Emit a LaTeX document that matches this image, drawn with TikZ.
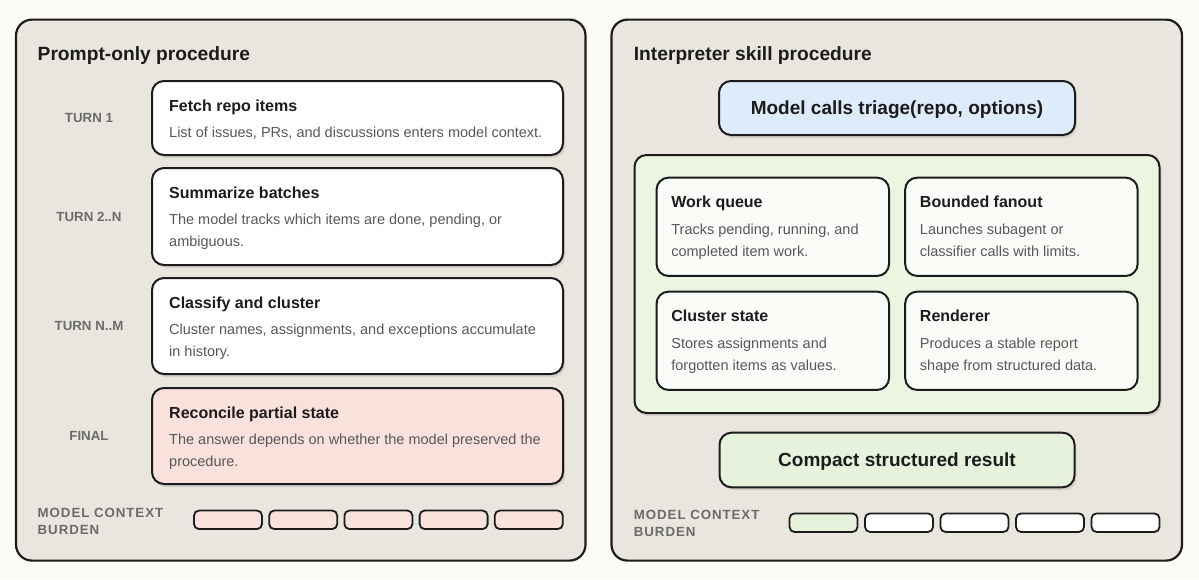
\documentclass[tikz,border=0pt]{standalone}
\usepackage{fontspec}
\setmainfont{Liberation Sans}
\usetikzlibrary{positioning,shadows}

\definecolor{pagebg}{HTML}{FCFBF6}
\definecolor{panelbg}{HTML}{E9E6DF}
\definecolor{ink}{HTML}{1C1C1C}
\definecolor{desctext}{HTML}{585858}
\definecolor{lbltext}{HTML}{6B6B6B}
\definecolor{stalepink}{HTML}{F9E1DC}
\definecolor{callblue}{HTML}{DEEBFA}
\definecolor{runtimegreen}{HTML}{EBF5E1}
\definecolor{partwhite}{HTML}{FAFCF8}
\definecolor{resultgreen}{HTML}{E6F2DC}

\tikzset{
  panel/.style={draw=ink, line width=2.2pt, fill=panelbg, rounded corners=16pt, outer sep=0pt},
  card/.style={draw=ink, line width=2pt, rounded corners=12pt, fill=white, outer sep=0pt,
    drop shadow={shadow xshift=2pt, shadow yshift=-3pt, fill=black, opacity=0.09}},
  part/.style={draw=ink, line width=2pt, rounded corners=12pt, fill=partwhite, outer sep=0pt,
    minimum width=232.5pt, minimum height=98.3pt},
  burden/.style={draw=ink, line width=1.8pt, rounded corners=5pt, outer sep=0pt,
    minimum width=68pt, minimum height=18.5pt},
  heading/.style={font=\fontsize{19.2}{23}\selectfont\bfseries, text=ink, inner sep=0pt, anchor=base west},
  cardtitle/.style={font=\fontsize{16}{19}\selectfont\bfseries, text=ink, inner sep=0pt, anchor=base west},
  cardtext/.style={font=\fontsize{14.5}{22}\selectfont, text=desctext, align=left, inner sep=0pt, anchor=base west},
  turn/.style={font=\fontsize{13.3}{16}\selectfont\bfseries, text=lbltext, inner sep=0pt},
  burdenlbl/.style={font=\fontsize{13.3}{17}\selectfont\bfseries\addfontfeature{LetterSpace=7}, text=lbltext,
    align=left, inner sep=0pt, anchor=base west},
  bigtext/.style={font=\fontsize{19}{23}\selectfont\bfseries, text=ink, text height=13.6pt, text depth=0pt}
}

\begin{document}
\begin{tikzpicture}[x=1pt, y=-1pt]
  \fill[pagebg] (0,0) rectangle (1199,579);
  \useasboundingbox (0,0) rectangle (1199,579);

  % two panels
  \node[panel, minimum width=569.5, minimum height=541] (prompt) at (300.75,290.1) {};
  \node[panel, minimum width=570.5, minimum height=541] (interp) at (896.75,290.1) {};
  \node[heading] (prompttitle) at (37.5,60) {Prompt-only procedure};
  \node[heading] (interptitle) at (633.7,60) {Interpreter skill procedure};

  % prompt-only: one card per turn (text anchored at its last baseline)
  \foreach \name/\ytop/\hgt/\fc/\dy/\ttl/\txt in {
      fetch/81/74/white/56/{Fetch repo items}/{List of issues, PRs, and discussions enters model context.},
      summ/168/97/white/78/{Summarize batches}/{The model tracks which items are done, pending, or\\ambiguous.},
      classify/278/96/white/78/{Classify and cluster}/{Cluster names, assignments, and exceptions accumulate\\in history.},
      reconcile/388/96/stalepink/78/{Reconcile partial state}/{The answer depends on whether the model preserved the\\procedure.}}
  {
    \node[card, fill=\fc, minimum width=411, minimum height=\hgt] (\name) at (357.5,{\ytop+\hgt/2}) {};
    \node[cardtitle] at ([shift={(17,30.5)}]\name.north west) {\ttl};
    \node[cardtext] at ([shift={(17,\dy)}]\name.north west) {\txt};
  }
  \foreach \name/\lbl in {fetch/TURN 1, summ/TURN 2..N, classify/TURN N..M, reconcile/FINAL}
    \node[turn] at ([xshift=-63pt]\name.west) {\lbl};

  % interpreter: call, runtime parts, result
  \node[card, fill=callblue, minimum width=356, minimum height=54, bigtext] (call) at (897,108) {Model calls triage(repo, options)};
  \node[card, fill=runtimegreen, minimum width=525, minimum height=258] (runtime) at (897,284) {};
  \foreach \name/\cx/\cy/\ttl/\txt in {
      queue/772.8/226.8/{Work queue}/{Tracks pending, running, and\\completed item work.},
      fanout/1021.4/226.8/{Bounded fanout}/{Launches subagent or\\classifier calls with limits.},
      cstate/772.8/340.8/{Cluster state}/{Stores assignments and\\forgotten items as values.},
      render/1021.4/340.8/{Renderer}/{Produces a stable report\\shape from structured data.}}
  {
    \node[part] (\name) at (\cx,\cy) {};
    \node[cardtitle] at ([shift={(14.6,30)}]\name.north west) {\ttl};
    \node[cardtext] at ([shift={(14.6,79.3)}]\name.north west) {\txt};
  }
  \node[card, fill=resultgreen, minimum width=355, minimum height=54.6, bigtext] (result) at (897,460) {Compact structured result};

  % context burden rows
  \node[burdenlbl] (lburden) at (37.5,534.3) {MODEL CONTEXT\\BURDEN};
  \foreach \i in {0,...,4}
    \node[burden, fill=stalepink] (lb\i) at ({228+75.2*\i},519.8) {};
  \node[burdenlbl] (rburden) at (633.7,536.7) {MODEL CONTEXT\\BURDEN};
  \foreach \i/\fc in {0/resultgreen,1/white,2/white,3/white,4/white}
    \node[burden, fill=\fc] (rb\i) at ({823.5+75.5*\i},522.7) {};
\end{tikzpicture}
\end{document}
